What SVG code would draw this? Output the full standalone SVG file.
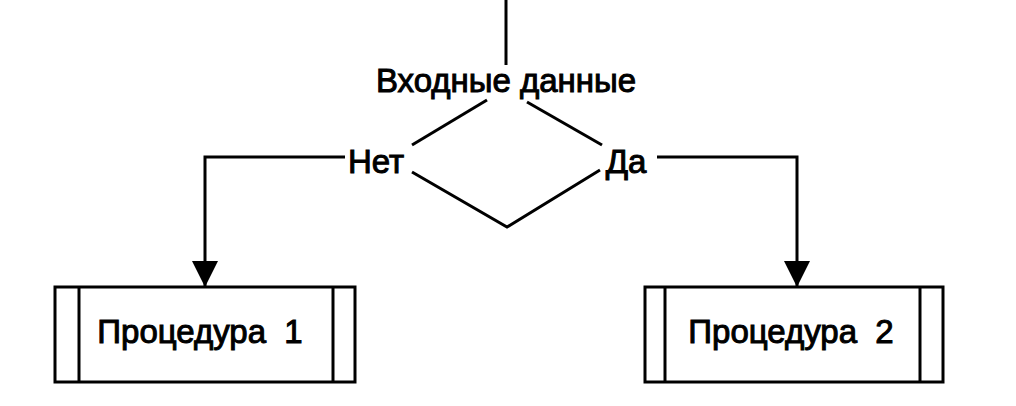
<svg xmlns="http://www.w3.org/2000/svg" width="1016" height="406" viewBox="0 0 1016 406">
<style>
.ln{stroke:#000;stroke-width:3;fill:none;stroke-linecap:butt}
.bx{stroke:#000;stroke-width:3;fill:#fff}
.t{font-family:"Liberation Sans",Arial,sans-serif;font-size:33px;fill:#000;stroke:#000;stroke-width:1}
</style>
<defs>
<marker id="ah" markerWidth="26" markerHeight="26" viewBox="0 0 26 26" refX="26" refY="13" orient="auto" markerUnits="userSpaceOnUse">
<path d="M0 0 L26 13 L0 26 Z" fill="#000"/>
</marker>
</defs>
<rect width="1016" height="406" fill="#fff"/>
<g id="connectors">
<line class="ln" x1="506" y1="0" x2="506" y2="65"/>
<polyline class="ln" points="345,157 205,157 205,287" marker-end="url(#ah)"/>
<polyline class="ln" points="657,157 797,157 797,287" marker-end="url(#ah)"/>
</g>
<g id="decision">
<line class="ln" x1="412" y1="145" x2="487" y2="100"/>
<line class="ln" x1="527" y1="102" x2="602" y2="145"/>
<polyline class="ln" points="412,172 507,227 600,170"/>
<text class="t" x="506" y="92" text-anchor="middle">Входные данные</text>
<text class="t" x="376" y="173" text-anchor="middle">Нет</text>
<text class="t" x="626" y="173" text-anchor="middle">Да</text>
</g>
<g id="proc1">
<rect class="bx" x="55" y="287" width="300" height="95"/>
<line class="ln" x1="79" y1="287" x2="79" y2="382"/>
<line class="ln" x1="333" y1="287" x2="333" y2="382"/>
<text class="t" x="200" y="343" text-anchor="middle" xml:space="preserve">Процедура  1</text>
</g>
<g id="proc2">
<rect class="bx" x="645" y="287" width="298" height="95"/>
<line class="ln" x1="665" y1="287" x2="665" y2="382"/>
<line class="ln" x1="920" y1="287" x2="920" y2="382"/>
<text class="t" x="791" y="343" text-anchor="middle" xml:space="preserve">Процедура  2</text>
</g>
</svg>
